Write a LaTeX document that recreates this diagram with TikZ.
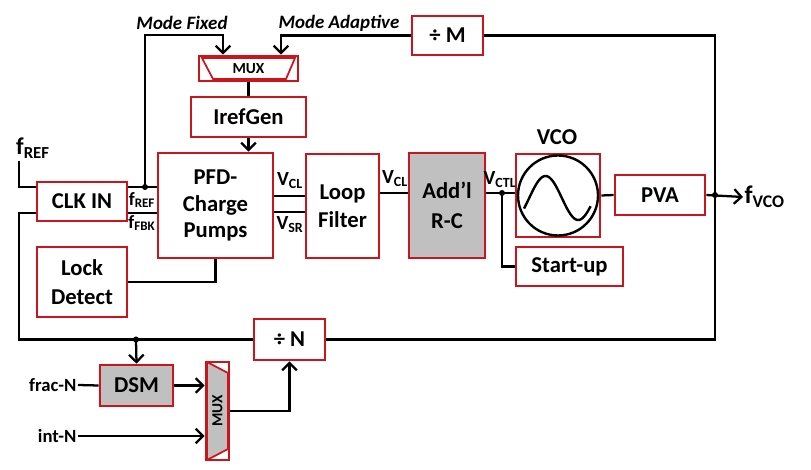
\documentclass[tikz,border=0pt]{standalone}
\usepackage{fontspec}
\setmainfont{Carlito}
\usetikzlibrary{arrows.meta,calc}
\definecolor{bred}{RGB}{204,20,28}
\definecolor{bgray}{RGB}{192,192,192}
\begin{document}
\begin{tikzpicture}[x=0.75pt,y=-0.75pt,
  box/.style={draw=bred, line width=2pt, fill=white, inner sep=0pt, align=center,
    font=\bfseries\fontsize{17}{20}\selectfont},
  wire/.style={line width=1.7pt, black},
  arr/.style={wire, -{Straight Barb[length=5.5pt,width=11pt,line width=1.7pt]}},
  dot/.style={circle, fill=black, inner sep=0pt, minimum size=4.5pt},
  lbl/.style={font=\bfseries\fontsize{14}{16}\selectfont, inner sep=1pt},
  modelbl/.style={font=\bfseries\itshape\fontsize{14.2}{16}\selectfont, inner sep=1pt},
]
\useasboundingbox (0,0) rectangle (811,470);

% boxes
\node[box, minimum width=53.25pt, minimum height=29.25pt] (divM) at (447.5,35.5) {÷ M};
\node[box, minimum width=74.25pt, minimum height=18.75pt,
  font=\bfseries\fontsize{11.5}{12}\selectfont,
  path picture={\draw[line width=1.3pt, fill=white]
    ([shift={(2.25pt,-1.5pt)}]path picture bounding box.north west) --
    ([shift={(-2.25pt,-1.5pt)}]path picture bounding box.north east) --
    ([shift={(-9pt,1.5pt)}]path picture bounding box.south east) --
    ([shift={(10.5pt,1.5pt)}]path picture bounding box.south west) -- cycle;}] (muxT) at (248.5,68.5) {MUX};
\node[box, minimum width=86.25pt, minimum height=30pt] (iref) at (248.5,117) {IrefGen};
\node[box, minimum width=86.25pt, minimum height=78.75pt] (pfd) at (215.5,205.5) {PFD-\\Charge\\Pumps};
\node[box, minimum width=67.5pt, minimum height=29.25pt] (clk) at (82,201.5) {CLK IN};
\node[box, minimum width=67.5pt, minimum height=52.5pt, font=\bfseries\fontsize{17}{22}\selectfont] (lock) at (82,282) {Lock\\Detect};
\node[box, minimum width=54.75pt, minimum height=78pt, font=\bfseries\fontsize{17}{21}\selectfont] (lf) at (342.5,206) {Loop\\Filter};
\node[box, fill=bgray, minimum width=57pt, minimum height=78.75pt, font=\bfseries\fontsize{17}{23}\selectfont] (rc) at (447,205.5) {Add’l\\R-C};
\node[box, minimum width=63pt, minimum height=62.25pt] (vco) at (558,195.5) {};
\node[box, minimum width=80.25pt, minimum height=29.25pt] (start) at (569.5,266.5) {Start-up};
\node[box, minimum width=67.5pt, minimum height=30pt] (pva) at (660,195) {PVA};
\node[box, minimum width=53.25pt, minimum height=30.75pt] (divN) at (289.5,339.5) {÷ N};
\node[box, fill=bgray, minimum width=54.75pt, minimum height=30.75pt] (dsm) at (136.5,385.5) {DSM};
\node[box, minimum width=17.25pt, minimum height=73.5pt,
  font=\bfseries\fontsize{11.5}{12}\selectfont,
  path picture={\draw[line width=1.3pt, fill=bgray]
    ([shift={(0.75pt,0pt)}]path picture bounding box.north west) --
    ([shift={(-0.75pt,-8.25pt)}]path picture bounding box.north east) --
    ([shift={(-0.75pt,8.25pt)}]path picture bounding box.south east) --
    ([shift={(0.75pt,0pt)}]path picture bounding box.south west) -- cycle;}] (muxB) at (217.5,411) {\rotatebox{90}{MUX}};

% VCO symbol
\draw[line width=1.8pt] (vco.center) circle[radius=30pt];
\draw[line width=1.8pt] plot[domain=-0.5:5.9, samples=50] ({524 + (\x+0.5)*10.4}, {198 - 22*sin(\x r)});

% labels
\node[modelbl] (mfix) at (182,23) {Mode Fixed};
\node[modelbl] (madp) at (339,23) {Mode Adaptive};
\node[font=\bfseries\fontsize{18}{20}\selectfont, inner sep=1pt] (frefin) at (33,148) {f\textsubscript{REF}};
\node[lbl] (lref) at (142,200) {f\textsubscript{REF}};
\node[lbl] (lfbk) at (142,223) {f\textsubscript{FBK}};
\node[lbl, font=\bfseries\fontsize{15}{16}\selectfont] (lvcl1) at (290,181) {V\textsubscript{CL}};
\node[lbl, font=\bfseries\fontsize{15}{16}\selectfont] (lvsr) at (290,225) {V\textsubscript{SR}};
\node[lbl, font=\bfseries\fontsize{15}{16}\selectfont] (lvcl2) at (395,179) {V\textsubscript{CL}};
\node[lbl, font=\bfseries\fontsize{15}{16}\selectfont] (lvctl) at (500,180) {V\textsubscript{CTL}};
\node[lbl, font=\bfseries\fontsize{17}{18}\selectfont] (lvco) at (557,137) {VCO};
\node[font=\bfseries\fontsize{19}{20}\selectfont, inner sep=1pt, anchor=west] (fvco) at (743,197) {f\textsubscript{VCO}};
\node[lbl, anchor=east] (fracN) at (78,385) {frac-N};
\node[lbl, anchor=east] (intN) at (78,436) {int-N};

% coordinates
\coordinate (fin) at (19,161);
\coordinate (yref) at (0,187);
\coordinate (yfbk) at (0,213);
\coordinate (fb) at (19,213);
\node[dot] (j1) at (145,187) {};
\node[dot] (j2) at (502,193) {};
\node[dot] (j3) at (715,195) {};
\node[dot] (j4) at (136,339.5) {};

% connectors
\draw[wire] (fin) |- (clk.west |- yref);
\draw[wire] (clk.east |- yref) -- (pfd.west |- yref);
\draw[wire] (clk.east |- yfbk) -- (pfd.west |- yfbk);
\draw[arr] (j1.center) |- ($(muxT.north)+(-25.5,-20)$) -- ($(muxT.north)+(-25.5,0)$);
\draw[arr] (divM.west) -| ($(muxT.north)+(32.5,0)$);
\draw[wire] (muxT.south) -- (iref.north);
\draw[arr] (iref.south) -- (iref.south |- pfd.north);
\draw[wire] (pfd.east |- 0,196) -- (lf.west |- 0,196);
\draw[wire] (pfd.east |- 0,212) -- (lf.west |- 0,212);
\draw[wire] (lf.east |- 0,193) -- (rc.west |- 0,193);
\draw[wire] (rc.east |- 0,193) -- (vco.west |- 0,193);
\draw[wire] (j2.center) |- (start.west);
\draw[wire] (vco.east) -- (pva.west);
\draw[arr] (pva.east) -- (fvco.west);
\draw[wire] (divM.east) -| (j3.center) |- (divN.east);
\draw[wire] (divN.west) -| (fb) -- (clk.west |- yfbk);
\draw[wire] (pfd.south) |- (lock.east);
\draw[arr] (j4.center) -- (dsm.north);
\draw[wire] (fracN.east) -- (dsm.west);
\draw[arr] (dsm.east) -- (muxB.west |- dsm.east);
\draw[arr] (intN.east) -- (muxB.west |- intN.east);
\draw[arr] (muxB.east) -| (divN.south);
\end{tikzpicture}
\end{document}
